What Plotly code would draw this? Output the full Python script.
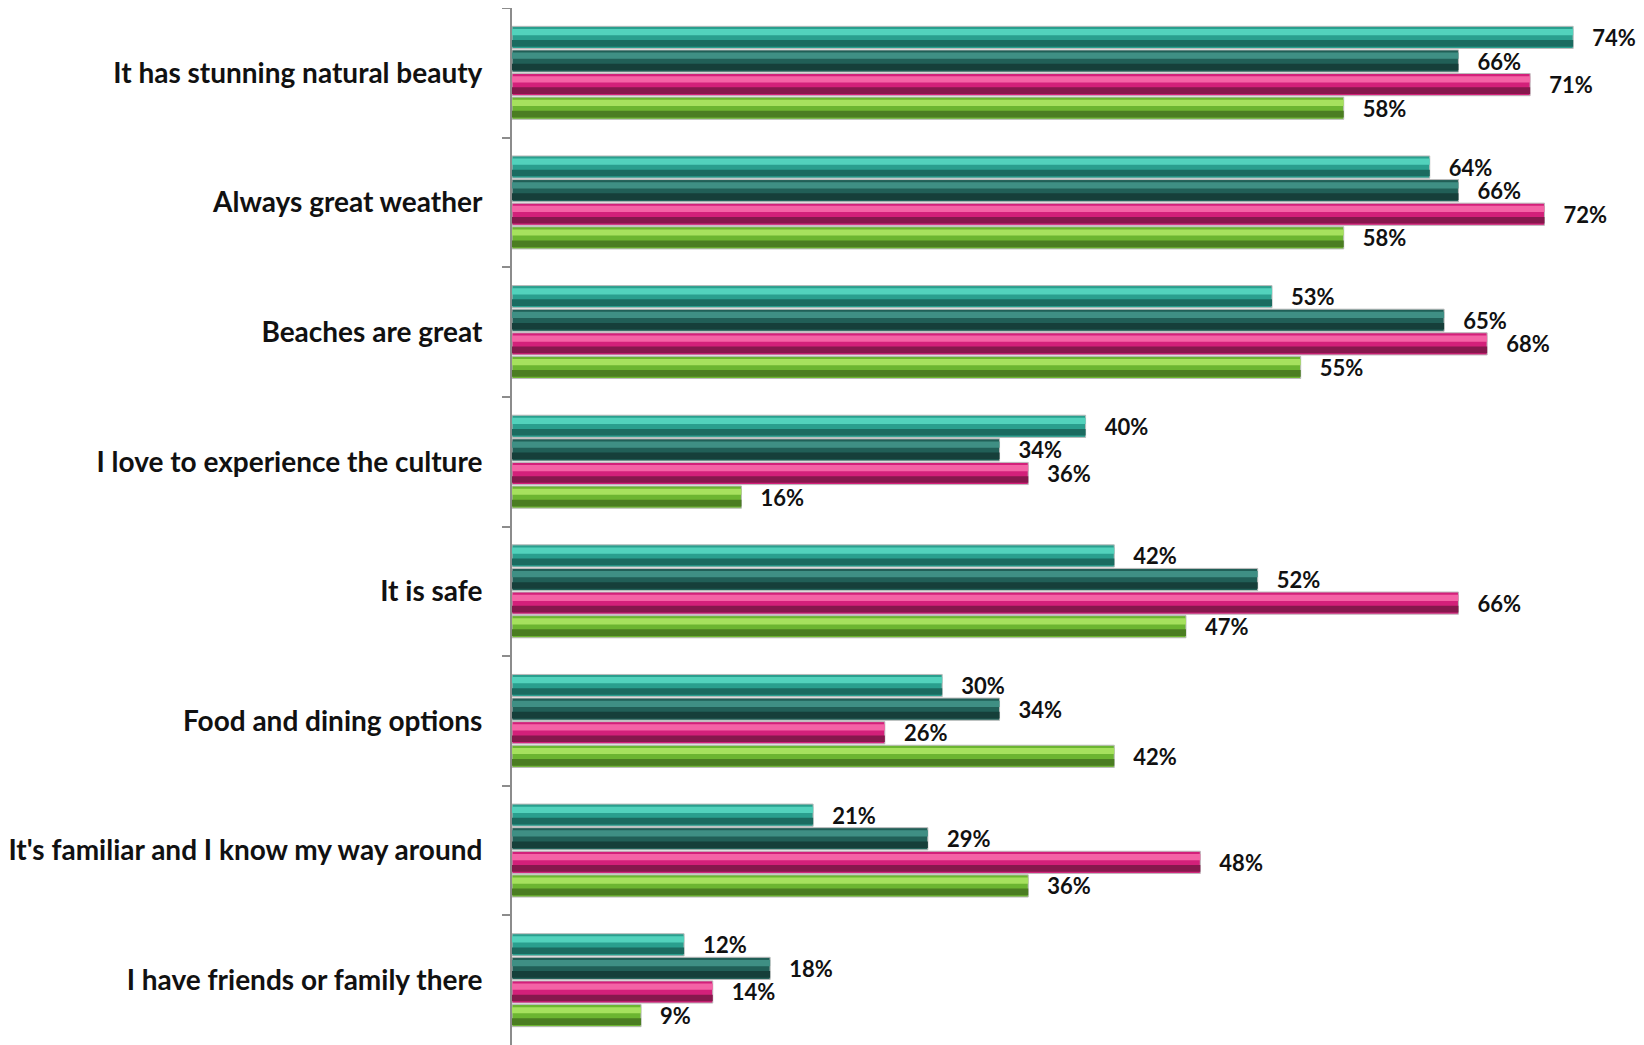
import plotly.graph_objects as go

categories = [
    "It has stunning natural beauty",
    "Always great weather",
    "Beaches are great",
    "I love to experience the culture",
    "It is safe",
    "Food and dining options",
    "It's familiar and I know my way around",
    "I have friends or family there",
]
series_a = [74, 64, 53, 40, 42, 30, 21, 12]
series_b = [66, 66, 65, 34, 52, 34, 29, 18]
series_c = [71, 72, 68, 36, 66, 26, 48, 14]
series_d = [58, 58, 55, 16, 47, 42, 36, 9]

series = [series_a, series_b, series_c, series_d]
palettes = [
    ("#2a9f8e", "#52d2bc", "#1b6b60"),
    ("#215f57", "#3f8f84", "#163f3a"),
    ("#d3207a", "#f463a6", "#86184d"),
    ("#6cb531", "#a6e15e", "#4b7d22"),
]

bar_w = 0.182
start = -2 * bar_w

fig = go.Figure()
for i, (vals, (base, light, dark)) in enumerate(zip(series, palettes)):
    off = start + i * bar_w
    inner = bar_w * 0.94
    ioff = off + (bar_w - inner) / 2
    fig.add_trace(go.Bar(
        y=categories, x=vals, orientation="h",
        offset=ioff, width=inner,
        marker=dict(color=base, line=dict(color="#bbbbbb", width=1)),
        text=vals, texttemplate="\u00a0\u00a0\u00a0%{x}%", textposition="outside",
        textfont=dict(family="Lato", size=22, color="#111111", weight="bold"),
        constraintext="none", cliponaxis=False, showlegend=False,
    ))
    fig.add_trace(go.Bar(
        y=categories, x=vals, orientation="h",
        offset=ioff + inner * 0.12, width=inner * 0.28,
        marker=dict(color=light, line=dict(width=0)),
        showlegend=False, hoverinfo="skip",
    ))
    fig.add_trace(go.Bar(
        y=categories, x=vals, orientation="h",
        offset=ioff + inner * 0.62, width=inner * 0.30,
        marker=dict(color=dark, line=dict(width=0)),
        showlegend=False, hoverinfo="skip",
    ))

fig.update_layout(
    barmode="overlay",
    width=1636, height=1037,
    margin=dict(l=504, r=0, t=0, b=0),
    plot_bgcolor="white", paper_bgcolor="white",
    font=dict(family="Lato", color="#111111"),
    xaxis=dict(range=[0, 78.94], visible=False, showgrid=False, zeroline=False),
    yaxis=dict(
        autorange="reversed", showgrid=False, zeroline=False,
        showline=True, linecolor="#8c8c8c", linewidth=2,
        ticks="outside", tickson="boundaries", ticklen=8, tickcolor="#8c8c8c",
        tickwidth=2,
        tickfont=dict(family="Lato", size=28, color="#111111", weight="bold"),
        ticklabelstandoff=22,
    ),
)
fig.write_html("out.html")
